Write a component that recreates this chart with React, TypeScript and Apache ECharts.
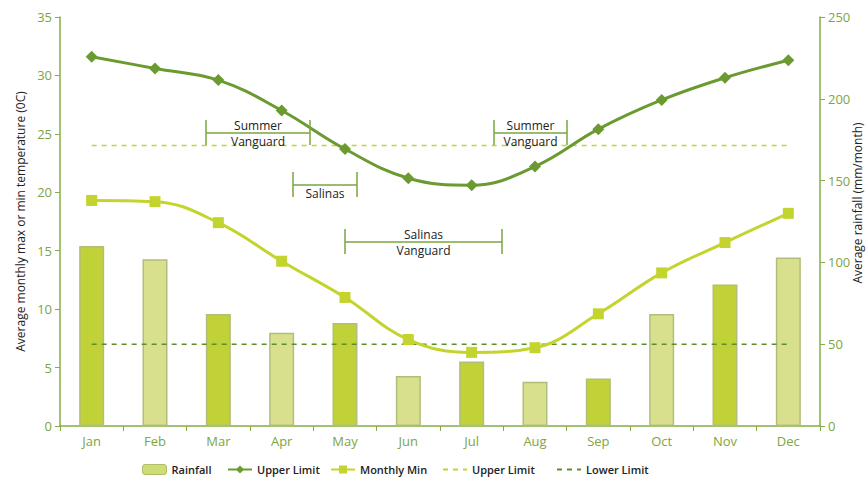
import React, { useEffect, useRef } from "react";
import * as echarts from "echarts";

const months = ["Jan", "Feb", "Mar", "Apr", "May", "Jun", "Jul", "Aug", "Sep", "Oct", "Nov", "Dec"];
const rainfall = [110, 102, 68.5, 57, 63, 30.5, 39.5, 27, 29, 68.5, 86.5, 103];
const upperLimit = [31.6, 30.6, 29.6, 27.0, 23.7, 21.2, 20.6, 22.2, 25.4, 27.9, 29.8, 31.3];
const monthlyMin = [19.3, 19.2, 17.4, 14.1, 11.0, 7.4, 6.3, 6.7, 9.6, 13.1, 15.7, 18.2];
const upperLimitLevel = [24, 24, 24, 24, 24, 24, 24, 24, 24, 24, 24, 24];
const lowerLimitLevel = [7, 7, 7, 7, 7, 7, 7, 7, 7, 7, 7, 7];
const tempTicks = { min: 0, max: 35, interval: 5 };
const rainTicks = { min: 0, max: 250, interval: 50 };

const DARK = "#6b9a30";
const LIME = "#c4d42e";
const AXIS = "#84ad47";
const LABEL = "#7ea53e";
const TXT = "#222";
const FONT = "'Open Sans', 'Noto Sans', sans-serif";

// annotation brackets: [x1, x2, lineY, top text, bottom text]
const brackets: [number, number, number, string, string][] = [
  [206, 310, 133, "Summer", "Vanguard"],
  [293, 357, 185, "", "Salinas"],
  [345, 502, 242, "Salinas", "Vanguard"],
  [494, 567, 133, "Summer", "Vanguard"],
];

function bracketGraphics() {
  const els: any[] = [];
  brackets.forEach(([x1, x2, y, t1, t2]) => {
    const ls = { stroke: "#7aa640", lineWidth: 1.5 };
    els.push({ type: "line", shape: { x1, y1: y, x2, y2: y }, style: ls, z: 100 });
    els.push({ type: "line", shape: { x1, y1: y - 13, x2: x1, y2: y + 12 }, style: ls, z: 100 });
    els.push({ type: "line", shape: { x1: x2, y1: y - 13, x2, y2: y + 12 }, style: ls, z: 100 });
    const cx = (x1 + x2) / 2;
    if (t1) {
      els.push({
        type: "text", x: cx, y: y - 8, z: 101,
        style: { text: t1, fill: TXT, font: `12px ${FONT}`, align: "center", verticalAlign: "middle" },
      });
    }
    if (t2) {
      els.push({
        type: "text", x: cx, y: y + 8, z: 101,
        style: { text: t2, fill: TXT, font: `12px ${FONT}`, align: "center", verticalAlign: "middle" },
      });
    }
  });
  els.push({
    type: "text", x: 857, y: 203, rotation: Math.PI / 2, z: 101,
    style: { text: "Average rainfall (mm/month)", fill: TXT, font: `12px ${FONT}`, align: "center", verticalAlign: "middle" },
  });
  return els;
}

export default function App() {
  const ref = useRef<HTMLDivElement>(null);
  useEffect(() => {
    if (!ref.current) return;
    const chart = echarts.init(ref.current, null, { renderer: "svg" });
    const legendText = { color: TXT, fontSize: 11, fontWeight: 600 as any, fontFamily: FONT };
    const legendBase = { top: 464, itemWidth: 24, itemHeight: 10, itemGap: 6, textStyle: legendText, padding: 0 };
    chart.setOption({
      animation: false,
      backgroundColor: "#fff",
      textStyle: { fontFamily: FONT },
      grid: { left: 60, right: 48, top: 17, bottom: 56 },
      legend: [
        { ...legendBase, left: 142, data: [{ name: "Rainfall", itemStyle: { color: "#cfdc74", borderColor: "#b0bd6c", borderWidth: 1 } }] },
        { ...legendBase, left: 227, data: ["Upper Limit"] },
        { ...legendBase, left: 330, data: ["Monthly Min"] },
        { ...legendBase, left: 442, data: [{ name: "Upper Limit ", itemStyle: { opacity: 0 } }] },
        { ...legendBase, left: 556, data: [{ name: "Lower Limit", itemStyle: { opacity: 0 } }] },
      ],
      xAxis: {
        type: "category",
        data: months,
        boundaryGap: true,
        axisLine: { lineStyle: { color: AXIS, width: 1.5 } },
        axisTick: { show: true, alignWithLabel: false, length: 5, lineStyle: { color: AXIS } },
        axisLabel: { color: LABEL, fontSize: 13, margin: 8, fontFamily: FONT },
      },
      yAxis: [
        {
          type: "value",
          ...tempTicks,
          name: "Average monthly max or min temperature (0C)",
          nameLocation: "middle",
          nameGap: 34,
          nameRotate: 90,
          nameTextStyle: { color: TXT, fontSize: 12, fontFamily: FONT },
          axisLine: { show: true, lineStyle: { color: AXIS, width: 1.5 } },
          axisTick: { show: true, length: 5, lineStyle: { color: AXIS } },
          axisLabel: { color: LABEL, fontSize: 13, margin: 8, fontFamily: FONT },
          splitLine: { show: false },
        },
        {
          type: "value",
          ...rainTicks,
          position: "right",
          axisLine: { show: true, lineStyle: { color: AXIS, width: 1.5 } },
          axisTick: { show: true, length: 5, lineStyle: { color: AXIS } },
          axisLabel: { color: LABEL, fontSize: 13, margin: 8, fontFamily: FONT },
          splitLine: { show: false },
        },
      ],
      series: [
        {
          name: "Rainfall",
          type: "bar",
          yAxisIndex: 1,
          data: rainfall,
          barWidth: 25,
          itemStyle: {
            color: (p: any) => (p.dataIndex % 2 === 0 ? "#c0d237" : "#d9e08d"),
            borderColor: "#b3bd7a",
            borderWidth: 1.5,
          },
          z: 1,
        },
        {
          name: "Upper Limit ",
          type: "line",
          data: upperLimitLevel,
          symbol: "none",
          lineStyle: { color: LIME, width: 1.5, type: [5, 5] },
          itemStyle: { color: LIME },
          z: 2,
        },
        {
          name: "Lower Limit",
          type: "line",
          data: lowerLimitLevel,
          symbol: "none",
          lineStyle: { color: "#5a9028", width: 1.5, type: [5, 5] },
          itemStyle: { color: "#5a9028" },
          z: 2,
        },
        {
          name: "Monthly Min",
          type: "line",
          data: monthlyMin,
          smooth: 0.4,
          symbol: "rect",
          symbolSize: 11,
          lineStyle: { color: LIME, width: 3 },
          itemStyle: { color: LIME },
          z: 3,
        },
        {
          name: "Upper Limit",
          type: "line",
          data: upperLimit,
          smooth: 0.4,
          symbol: "diamond",
          symbolSize: 12,
          lineStyle: { color: DARK, width: 3 },
          itemStyle: { color: DARK },
          z: 4,
        },
      ],
      graphic: bracketGraphics(),
    });
    return () => chart.dispose();
  }, []);
  return <div ref={ref} style={{ width: 868, height: 482, position: "absolute", left: 0, top: 0 }} />;
}
